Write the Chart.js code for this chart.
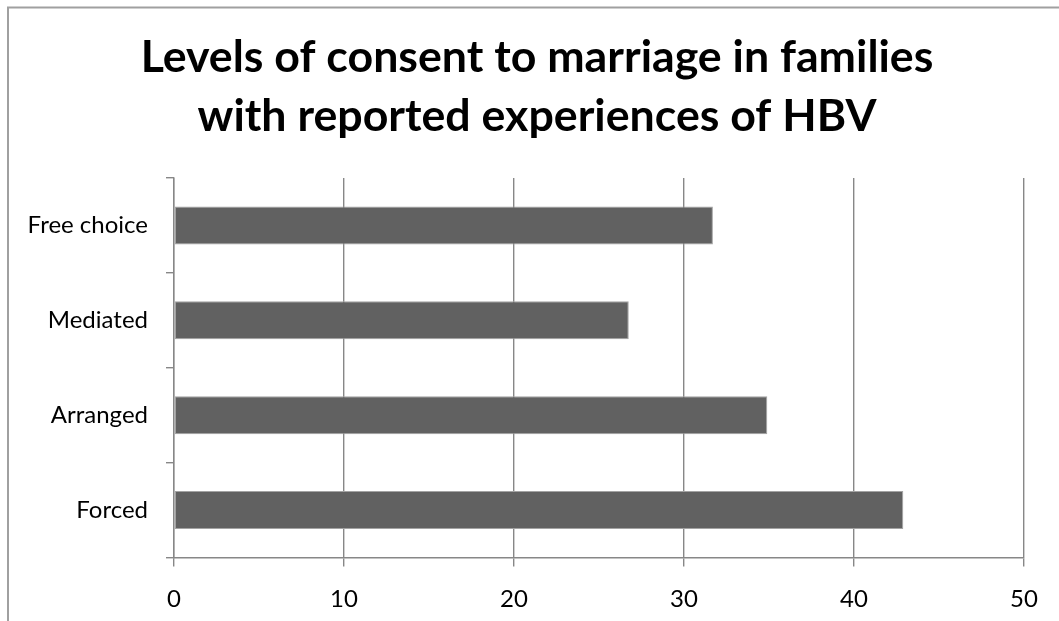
<!DOCTYPE html>
<html>
<head>
<meta charset="utf-8">
<title>Levels of consent to marriage</title>
<script src="https://cdn.jsdelivr.net/npm/chart.js@4"></script>
<style>
    html, body { margin: 0; padding: 0; background: #fff; }
    #wrap { width: 1059px; height: 621px; position: relative; }
</style>
</head>
<body>
<div id="wrap"><canvas id="consentChart"></canvas></div>
<script>
const categories = ['Free choice', 'Mediated', 'Arranged', 'Forced'];
const consentValues = [31.7, 26.75, 34.9, 42.9];
const xTicks = [0, 10, 20, 30, 40, 50];

const gridGrey = '#878787';
const labelFont = { family: 'Lato, "Open Sans", sans-serif', size: 24 };

// grey frame along the top and left edge of the chart box
const framePlugin = {
    id: 'frame',
    beforeDraw(chart) {
        const ctx = chart.ctx;
        ctx.save();
        ctx.strokeStyle = '#a0a0a0';
        ctx.lineWidth = 2;
        ctx.beginPath();
        ctx.moveTo(8, chart.height);
        ctx.lineTo(8, 7.5);
        ctx.lineTo(chart.width, 7.5);
        ctx.stroke();
        ctx.restore();
    }
};

// nudge the title block so it is centred a little right of the plot
const titleShift = {
    id: 'titleShift',
    afterLayout(chart) {
        if (chart.titleBlock) {
            chart.titleBlock.left = 50;
        }
    }
};

const ctx = document.getElementById('consentChart').getContext('2d');
const consentChart = new Chart(ctx, {
    type: 'bar',
    data: {
        labels: categories,
        datasets: [{
            data: consentValues,
            backgroundColor: '#616161',
            borderColor: '#a3a3a3',
            borderWidth: 1,
            borderSkipped: false,
            barPercentage: 0.4,
            categoryPercentage: 1
        }]
    },
    options: {
        indexAxis: 'y',
        responsive: true,
        maintainAspectRatio: false,
        animation: false,
        layout: { padding: { left: 0, right: 35, top: 0, bottom: 0 } },
        plugins: {
            legend: { display: false },
            tooltip: { enabled: false },
            title: {
                display: true,
                text: ['Levels of consent to marriage in families', 'with reported experiences of HBV'],
                color: '#000',
                font: { family: 'Lato, "Open Sans", sans-serif', size: 44.7, weight: 'bold', lineHeight: 1.313 },
                padding: { top: 28.5, bottom: 32.1 }
            }
        },
        scales: {
            x: {
                min: 0,
                max: 50,
                afterBuildTicks(scale) {
                    scale.ticks = xTicks.map(v => ({ value: v }));
                },
                afterFit(scale) {
                    scale.height = 63.5;
                },
                grid: { color: gridGrey, lineWidth: 1.4, tickLength: 9 },
                border: { color: gridGrey, width: 1.4 },
                ticks: { color: '#000', font: labelFont, padding: 18 }
            },
            y: {
                afterFit(scale) {
                    scale.width = 174;
                },
                grid: { offset: true, drawOnChartArea: false, color: gridGrey, lineWidth: 1.4, tickLength: 8 },
                border: { color: gridGrey, width: 1.4 },
                ticks: { color: '#000', font: labelFont, padding: 18 }
            }
        }
    },
    plugins: [framePlugin, titleShift]
});
</script>
</body>
</html>
